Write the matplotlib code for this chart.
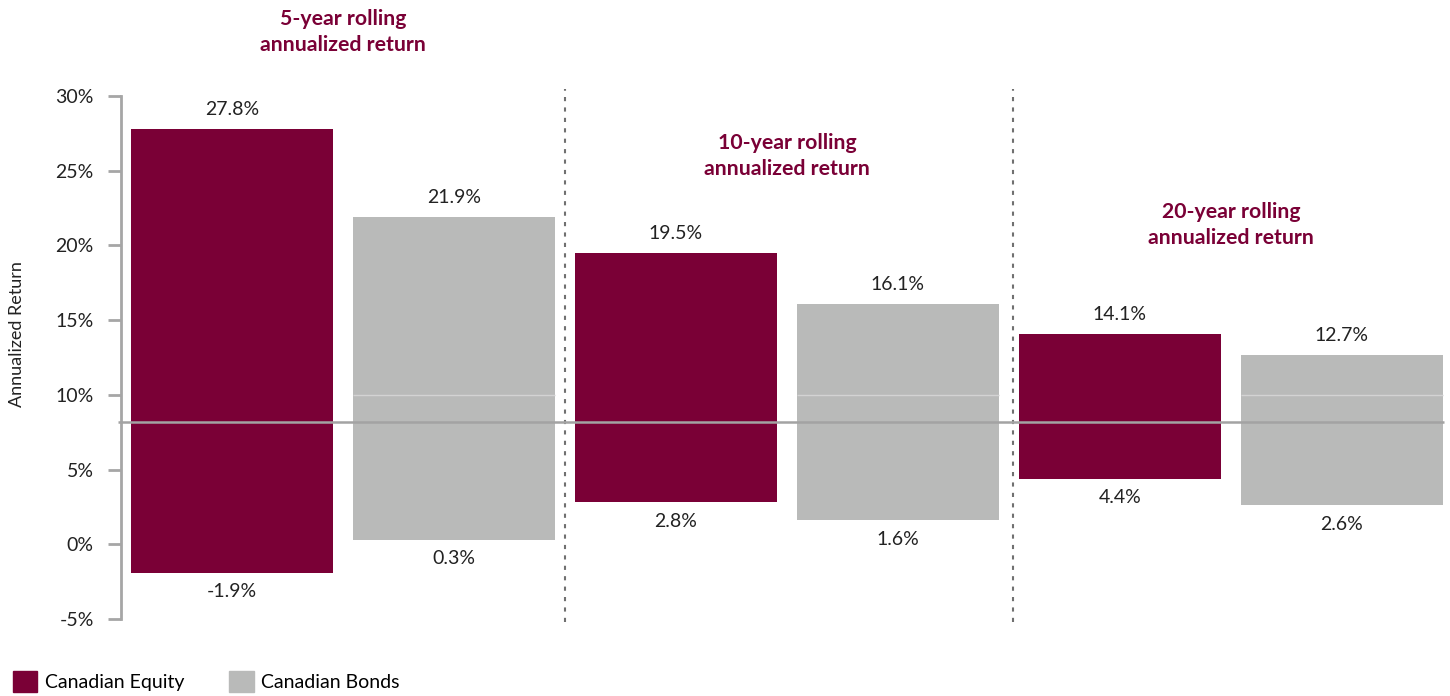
import matplotlib.pyplot as plt
from matplotlib.patches import Patch

plt.rcParams['font.family'] = ['Lato', 'DejaVu Sans']

periods = ["5-year rolling\nannualized return",
           "10-year rolling\nannualized return",
           "20-year rolling\nannualized return"]
equity_low = [-1.9, 2.8, 4.4]
equity_high = [27.8, 19.5, 14.1]
bonds_low = [0.3, 1.6, 2.6]
bonds_high = [21.9, 16.1, 12.7]
average_line = 8.2
title_y = [34.3, 26.0, 21.35]

maroon = "#7a0036"
grey = "#b9bab9"
axis_grey = "#a6a6a6"
title_col = "#7a0036"

fig = plt.figure(figsize=(14.5, 6.96), dpi=100)
ax = fig.add_axes([0.0834, 0.1106, 0.9125, 0.7514])

width = 0.91
for i in range(3):
    xe = 2 * i
    xb = 2 * i + 1
    ax.bar(xe, equity_high[i] - equity_low[i], bottom=equity_low[i],
           width=width, color=maroon, zorder=2)
    ax.bar(xb, bonds_high[i] - bonds_low[i], bottom=bonds_low[i],
           width=width, color=grey, zorder=2)
    # faint seam at 10% on the grey bars
    if bonds_low[i] < 10 < bonds_high[i]:
        ax.hlines(10, xb - width / 2, xb + width / 2, color="#d3d3d3",
                  lw=1, zorder=3)
    for x, lo, hi in [(xe, equity_low[i], equity_high[i]),
                      (xb, bonds_low[i], bonds_high[i])]:
        ax.text(x, hi + 1.3, f"{hi:.1f}%", ha="center", va="center",
                fontsize=14, color="#222222")
        ax.text(x, lo - 1.25, f"{lo:.1f}%", ha="center", va="center",
                fontsize=14, color="#222222")
    ax.text(2 * i + 0.5, title_y[i], periods[i], ha="center", va="center",
            fontsize=15.3, fontweight="bold", color=title_col,
            linespacing=1.4, clip_on=False)

# dotted separators
for xs in [1.5, 3.52]:
    ax.vlines(xs, -5.2, 30.5, colors="#707070", linestyles=(0, (2, 3)),
              lw=1.5, clip_on=False, zorder=1)

# average line
ax.hlines(average_line, -0.515, 5.46, colors="#a3a3a3", lw=1.8,
          zorder=4, clip_on=False)

ax.set_xlim(-0.5, 5.46)
ax.set_ylim(-5, 30)
ax.set_yticks(range(-5, 31, 5))
ax.set_yticklabels([f"{t}%" for t in range(-5, 31, 5)], fontsize=14,
                   color="#222222")
ax.set_xticks([])
for s in ["top", "right", "bottom"]:
    ax.spines[s].set_visible(False)
ax.spines["left"].set_color(axis_grey)
ax.spines["left"].set_linewidth(2)
ax.tick_params(axis="y", length=9.5, width=2, color=axis_grey, pad=10)
ax.set_ylabel("Annualized Return", fontsize=13, color="#222222")
ax.yaxis.set_label_coords(-0.0722, 0.545, transform=ax.transAxes)

handles = [Patch(color=maroon, label="Canadian Equity"),
           Patch(color=grey, label="Canadian Bonds")]
fig.legend(handles=handles, loc="lower left", bbox_to_anchor=(-0.003, -0.019),
           ncol=2, frameon=False, fontsize=14, handlelength=1.25,
           handleheight=1.25, handletextpad=0.4, columnspacing=2.3)

fig.savefig("out.png", dpi=100)
